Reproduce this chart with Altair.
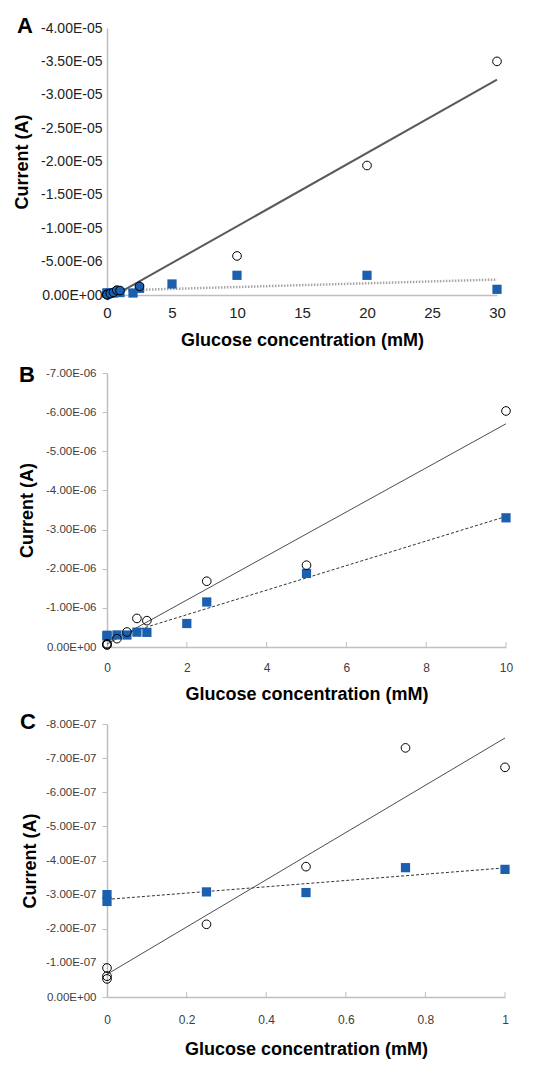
import altair as alt
import pandas as pd

# ---------------- data ----------------
# Panel A (0-30 mM)
A_circ_x = [0, 0, 0, 0.25, 0.5, 0.75, 1, 2.5, 10, 20, 30]
A_circ_y = [-0.085e-6, -0.061e-6, -0.053e-6, -0.213e-6, -0.382e-6, -0.73e-6, -0.673e-6,
            -1.3e-6, -5.85e-6, -19.4e-6, -35.0e-6]
A_sq_x = [0, 0, 0.25, 0.5, 0.75, 1, 2, 2.5, 5, 10, 20, 30]
A_sq_y = [-0.30e-6, -0.28e-6, -0.31e-6, -0.31e-6, -0.38e-6, -0.37e-6, -0.30e-6,
          -1.0e-6, -1.65e-6, -2.95e-6, -2.95e-6, -0.85e-6]
A_x_ticks = [0, 5, 10, 15, 20, 25, 30]
A_y_ticks = [0, -5e-6, -1e-5, -1.5e-5, -2e-5, -2.5e-5, -3e-5, -3.5e-5, -4e-5]

# Panel B (0-10 mM)
B_circ_x = [0, 0, 0, 0.25, 0.5, 0.75, 1, 2.5, 5, 10]
B_circ_y = [-0.085e-6, -0.061e-6, -0.053e-6, -0.213e-6, -0.382e-6, -0.73e-6, -0.673e-6,
            -1.68e-6, -2.09e-6, -6.03e-6]
B_sq_x = [0, 0, 0.25, 0.5, 0.75, 1, 2, 2.5, 5, 10]
B_sq_y = [-0.30e-6, -0.28e-6, -0.308e-6, -0.306e-6, -0.379e-6, -0.374e-6, -0.60e-6,
          -1.15e-6, -1.88e-6, -3.30e-6]
B_x_ticks = [0, 2, 4, 6, 8, 10]
B_y_ticks = [0, -1e-6, -2e-6, -3e-6, -4e-6, -5e-6, -6e-6, -7e-6]

# Panel C (0-1 mM)
C_circ_x = [0, 0, 0, 0.25, 0.5, 0.75, 1]
C_circ_y = [-0.85e-7, -0.61e-7, -0.53e-7, -2.13e-7, -3.82e-7, -7.30e-7, -6.73e-7]
C_sq_x = [0, 0, 0.25, 0.5, 0.75, 1]
C_sq_y = [-3.0e-7, -2.8e-7, -3.08e-7, -3.06e-7, -3.79e-7, -3.74e-7]
C_x_ticks = [0, 0.2, 0.4, 0.6, 0.8, 1]
C_y_ticks = [0, -1e-7, -2e-7, -3e-7, -4e-7, -5e-7, -6e-7, -7e-7, -8e-7]

BLUE = "#1b5fae"
AXC = "#bfbfbf"
FONT = "Liberation Sans"
XTITLE = "Glucose concentration (mM)"
YTITLE = "Current (A)"
SCI = ("datum.value == 0 ? '0.00E+00' : "
       "replace(replace(format(datum.value, '.2e'), '\u2212', '-'), 'e-', 'E-0')")


def panel(letter, cx, cy, sx, sy, xt, yt, W, H, big, letter_x, letter_y, fill_small,
          xlp=15, xtp=11, ytp=9):
    circ = pd.DataFrame({"x": cx, "y": cy})
    sq = pd.DataFrame({"x": sx, "y": sy})
    xs = alt.Scale(domain=[xt[0], xt[-1]], nice=False, zero=False)
    ys = alt.Scale(domain=[yt[0], yt[-1]], nice=False, zero=False)
    if big:
        xfs, yfs, lcol, tick, ylp = 15, 14, "#222222", 0, 5
    else:
        xfs, yfs, lcol, tick, ylp = 12, 11.5, "#404040", 5, 6
    xaxis = alt.Axis(values=xt, title=XTITLE, labelExpr="'' + datum.value", grid=False,
                     domainColor=AXC, domainWidth=1.5, ticks=False,
                     labelFont=FONT, labelFontSize=xfs, labelColor=lcol,
                     labelPadding=xlp, labelFlush=False, labelOverlap=False,
                     titleFont=FONT, titleFontSize=18, titleFontWeight="bold",
                     titleColor="black", titlePadding=xtp)
    yaxis = alt.Axis(values=yt, title=YTITLE, labelExpr=SCI, grid=False,
                     domainColor=AXC, domainWidth=1.5,
                     ticks=tick > 0, tickSize=max(tick, 1), tickColor=AXC,
                     labelFont=FONT, labelFontSize=yfs, labelColor=lcol,
                     labelPadding=ylp, labelFlush=False, labelOverlap=False,
                     labelSeparation=0,
                     titleFont=FONT, titleFontSize=18, titleFontWeight="bold",
                     titleColor="black", titlePadding=ytp)
    X = alt.X("x:Q", scale=xs, axis=xaxis)
    Y = alt.Y("y:Q", scale=ys, axis=yaxis)

    if big:
        solid = dict(color="#5a5a5a", strokeWidth=2)
        dashed = dict(color="#a6a6a6", strokeWidth=2.5, strokeDash=[1.5, 1.5])
    else:
        solid = dict(color="#4d4d4d", strokeWidth=1)
        dashed = dict(color="#333333", strokeWidth=1, strokeDash=[3, 2])

    sq_fit = alt.Chart(sq).transform_regression("x", "y").mark_line(**dashed).encode(
        x=X, y=Y)
    sq_pts = alt.Chart(sq).mark_point(shape="square", filled=True, size=85,
                                      color=BLUE, opacity=1).encode(x=X, y=Y)
    circ_fit = alt.Chart(circ).transform_regression("x", "y").mark_line(**solid).encode(
        x=X, y=Y)
    if fill_small:
        fill = alt.condition("datum.x <= 2.5", alt.value(BLUE), alt.value("transparent"))
    else:
        fill = alt.value("transparent")
    circ_pts = alt.Chart(circ).mark_point(shape="circle", filled=True, size=75,
                                          stroke="black", strokeWidth=1,
                                          opacity=1).encode(x=X, y=Y, fill=fill)
    label = alt.Chart(pd.DataFrame({"t": [letter]})).mark_text(
        font=FONT, fontSize=22, fontWeight="bold", color="black",
        align="left", baseline="top").encode(
        text="t:N", x=alt.value(letter_x), y=alt.value(letter_y))
    layers = [sq_fit, circ_fit, sq_pts, circ_pts, label]
    if not big:
        ticks = alt.Chart(pd.DataFrame({"x": xt[1:]})).mark_rule(
            color=AXC, strokeWidth=1).encode(
            x=X, y=alt.value(H), y2=alt.value(H - 5))
        layers.insert(0, ticks)
    return alt.layer(*layers).properties(width=W, height=H)


pA = panel("A", A_circ_x, A_circ_y, A_sq_x, A_sq_y, A_x_ticks, A_y_ticks,
           390, 267, True, -90, -12.5, True, xlp=10, xtp=11, ytp=9)
pB = panel("B", B_circ_x, B_circ_y, B_sq_x, B_sq_y, B_x_ticks, B_y_ticks,
           399, 274, False, -88, -8.5, False, xlp=15, xtp=12, ytp=9)
pC = panel("C", C_circ_x, C_circ_y, C_sq_x, C_sq_y, C_x_ticks, C_y_ticks,
           398, 273, False, -87, -12.5, False, xlp=17, xtp=15, ytp=6)

chart = alt.vconcat(alt.vconcat(pA, pB, spacing=14), pC, spacing=7).properties(
    padding={"left": 5, "top": 6, "right": 5, "bottom": 5},
    background="white",
).configure_view(stroke=None).configure_axis(labelOverlap=False)

chart.save("out.html", embed_options={"renderer": "svg", "actions": False})
